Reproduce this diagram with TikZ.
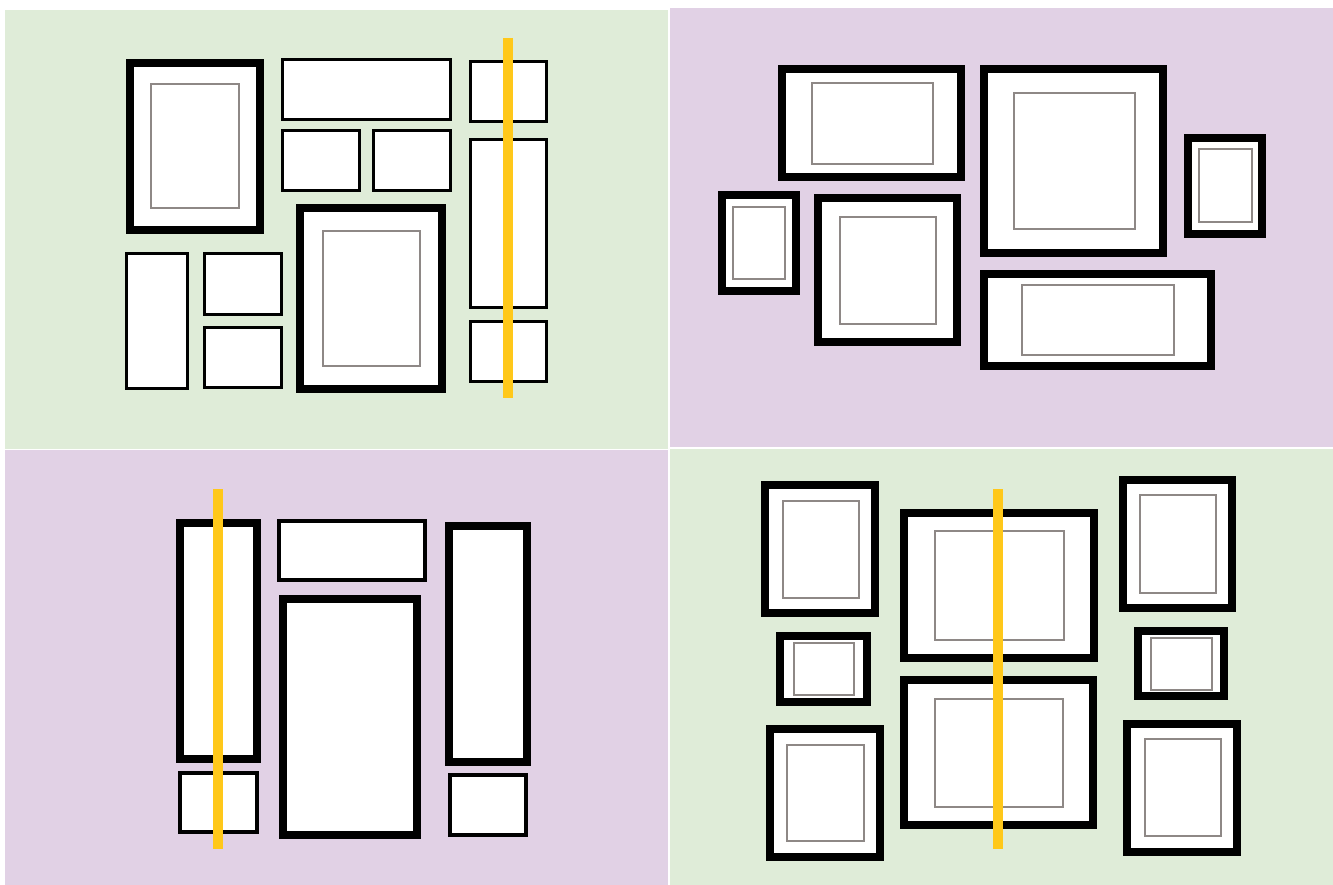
\documentclass[tikz,border=0pt]{standalone}
\definecolor{wallgreen}{RGB}{223,236,216}
\definecolor{wallpurple}{RGB}{225,209,229}
\definecolor{matgray}{RGB}{142,136,134}
\definecolor{plumb}{RGB}{255,200,26}
\begin{document}
\begin{tikzpicture}[x=1pt, y=-1pt,
        thickframe/.style={draw=black, fill=white, line width=8pt},
        thinframe/.style={draw=black, fill=white, line width=3pt},
        matline/.style={draw=matgray, line width=2.5pt},
        plumbline/.style={draw=plumb, line width=10pt}]
    \fill[white] (0,0) rectangle (1333,885);
    \useasboundingbox (0,0) rectangle (1333,885);

    % Wall panels
    \fill[wallgreen] (5,10) rectangle (668,449);
    \fill[wallpurple] (670,8) rectangle (1333,447);
    \fill[wallpurple] (5,450) rectangle (668,885);
    \fill[wallgreen] (670,449) rectangle (1333,885);

    % Top left
    \draw[thickframe] (130,63) rectangle (260,230);
    \draw[matline] (151,84) rectangle (239,208);
    \draw[thinframe] (282.5,59.5) rectangle (450.5,119.5);
    \draw[thinframe] (282.5,130.5) rectangle (359.5,190.5);
    \draw[thinframe] (373.5,130.5) rectangle (450.5,190.5);
    \draw[thinframe] (470.5,61.5) rectangle (546.5,121.5);
    \draw[thinframe] (470.5,139.5) rectangle (546.5,307.5);
    \draw[thinframe] (470.5,321.5) rectangle (546.5,381.5);
    \draw[thickframe] (300,208) rectangle (442,389);
    \draw[matline] (323,231) rectangle (420,366);
    \draw[thinframe] (126.5,253.5) rectangle (187.5,388.5);
    \draw[thinframe] (204.5,253.5) rectangle (281.5,314.5);
    \draw[thinframe] (204.5,327.5) rectangle (281.5,387.5);
    \draw[plumbline] (508,38) -- (508,398);

    % Top right
    \draw[thickframe] (782,69) rectangle (961,177);
    \draw[matline] (812,83) rectangle (933,164);
    \draw[thickframe] (722,195) rectangle (796,291);
    \draw[matline] (733,207) rectangle (785,279);
    \draw[thickframe] (818,198) rectangle (957,342);
    \draw[matline] (840,217) rectangle (936,324);
    \draw[thickframe] (984,69) rectangle (1163,253);
    \draw[matline] (1014,93) rectangle (1135,229);
    \draw[thickframe] (1188,138) rectangle (1262,234);
    \draw[matline] (1199,149) rectangle (1252,222);
    \draw[thickframe] (984,274) rectangle (1211,366);
    \draw[matline] (1022,285) rectangle (1174,355);

    % Bottom left
    \draw[thickframe] (180,523) rectangle (257,759);
    \draw[thinframe, line width=3.5pt] (180,773) rectangle (257,832);
    \draw[thinframe, line width=3.5pt] (279,521) rectangle (425,580);
    \draw[thickframe] (283,599) rectangle (417,835);
    \draw[thickframe] (449,526) rectangle (527,762);
    \draw[thinframe, line width=3.5pt] (450,775) rectangle (526,835);
    \draw[plumbline] (218,489) -- (218,849);

    % Bottom right
    \draw[thickframe] (765,485) rectangle (875,613);
    \draw[matline] (783,501) rectangle (859,598);
    \draw[thickframe] (904,513) rectangle (1094,658);
    \draw[matline] (935,531) rectangle (1064,640);
    \draw[thickframe] (780,636) rectangle (867,702);
    \draw[matline] (794,643) rectangle (854,695);
    \draw[thickframe] (904,680) rectangle (1093,825);
    \draw[matline] (935,699) rectangle (1063,807);
    \draw[thickframe] (770,729) rectangle (880,857);
    \draw[matline] (787,745) rectangle (864,841);
    \draw[thickframe] (1123,480) rectangle (1232,608);
    \draw[matline] (1140,495) rectangle (1216,593);
    \draw[thickframe] (1138,631) rectangle (1224,696);
    \draw[matline] (1151,638) rectangle (1212,690);
    \draw[thickframe] (1127,724) rectangle (1237,852);
    \draw[matline] (1145,739) rectangle (1221,836);
    \draw[plumbline] (998,489) -- (998,849);
\end{tikzpicture}
\end{document}
